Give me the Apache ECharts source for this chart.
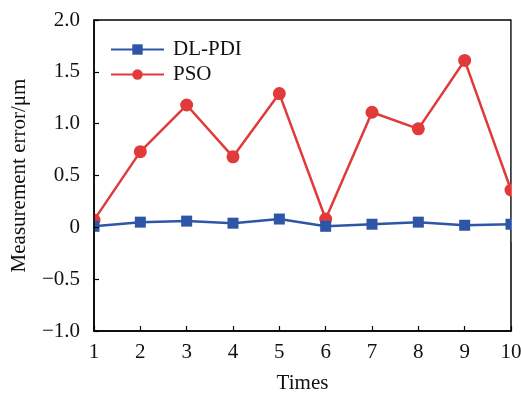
<!DOCTYPE html>
<html><head><meta charset="utf-8">
<script src="https://cdn.jsdelivr.net/npm/echarts@6/dist/echarts.min.js"></script>
<style>html,body{margin:0;padding:0;background:#fff}#c{width:521px;height:393px}</style>
</head><body><div id="c"></div>
<script>
const categories = ['1','2','3','4','5','6','7','8','9','10'];
const dlpdi = [0.01, 0.05, 0.06, 0.04, 0.08, 0.01, 0.03, 0.05, 0.02, 0.03];
const pso = [0.07, 0.73, 1.18, 0.68, 1.29, 0.08, 1.11, 0.95, 1.61, 0.36];
const yTicks = {min: -1, max: 2, interval: 0.5};
const FONT = 'Liberation Serif';
const chart = echarts.init(document.getElementById('c'));
chart.setOption({
  backgroundColor: '#fff',
  animation: false,
  grid: {left: 94, right: 10, top: 20, bottom: 62, outerBoundsMode: 'none', containLabel: false,
    show: true, borderColor: '#000', borderWidth: 1.5, backgroundColor: 'transparent'},
  legend: {
    orient: 'vertical', left: 110, top: 39, padding: 0, itemWidth: 53, itemHeight: 13, itemGap: 4,
    textStyle: {fontFamily: FONT, fontSize: 21, color: '#111', lineHeight: 21, padding: [0,0,0,4]},
    data: ['DL-PDI', 'PSO']
  },
  xAxis: {
    type: 'category', data: categories, boundaryGap: false, z: 200,
    name: 'Times', nameLocation: 'middle', nameGap: 42,
    nameTextStyle: {fontFamily: FONT, fontSize: 21, color: '#111'},
    axisLine: {onZero: false, lineStyle: {color: '#000', width: 1.5}},
    axisTick: {inside: true, length: 5, lineStyle: {color: '#000', width: 1.2}},
    axisLabel: {fontFamily: FONT, fontSize: 21, color: '#111', margin: 11},
    splitLine: {show: false}
  },
  yAxis: {
    type: 'value', min: yTicks.min, max: yTicks.max, interval: yTicks.interval, z: 200,
    name: 'Measurement error/μm', nameLocation: 'middle', nameGap: 64, nameRotate: 90,
    nameTextStyle: {fontFamily: FONT, fontSize: 21, color: '#111'},
    axisLine: {show: true, lineStyle: {color: '#000', width: 1.5}},
    axisTick: {show: true, inside: true, length: 5, lineStyle: {color: '#000', width: 1.2}},
    axisLabel: {fontFamily: FONT, fontSize: 21, color: '#111', margin: 14,
      formatter: v => v === 0 ? '0' : (v < 0 ? '\u2212' : '') + Math.abs(v).toFixed(1)},
    splitLine: {show: false}
  },
  graphic: [
    {type: 'rect', z: 100, shape: {x: 80, y: 12, width: 13.2, height: 230}, style: {fill: '#fff'}},
    {type: 'rect', z: 100, shape: {x: 511.8, y: 12, width: 12, height: 230}, style: {fill: '#fff'}}
  ],
  series: [
    {name: 'DL-PDI', type: 'line', data: dlpdi, clip: false, symbol: 'rect', symbolSize: 11,
     itemStyle: {color: '#2f55a6'}, lineStyle: {color: '#2f55a6', width: 2.5}, z: 3},
    {name: 'PSO', type: 'line', data: pso, clip: false, symbol: 'circle', symbolSize: 13,
     itemStyle: {color: '#e03a3a'}, lineStyle: {color: '#e03a3a', width: 2.5}, z: 2}
  ]
});
</script></body></html>
